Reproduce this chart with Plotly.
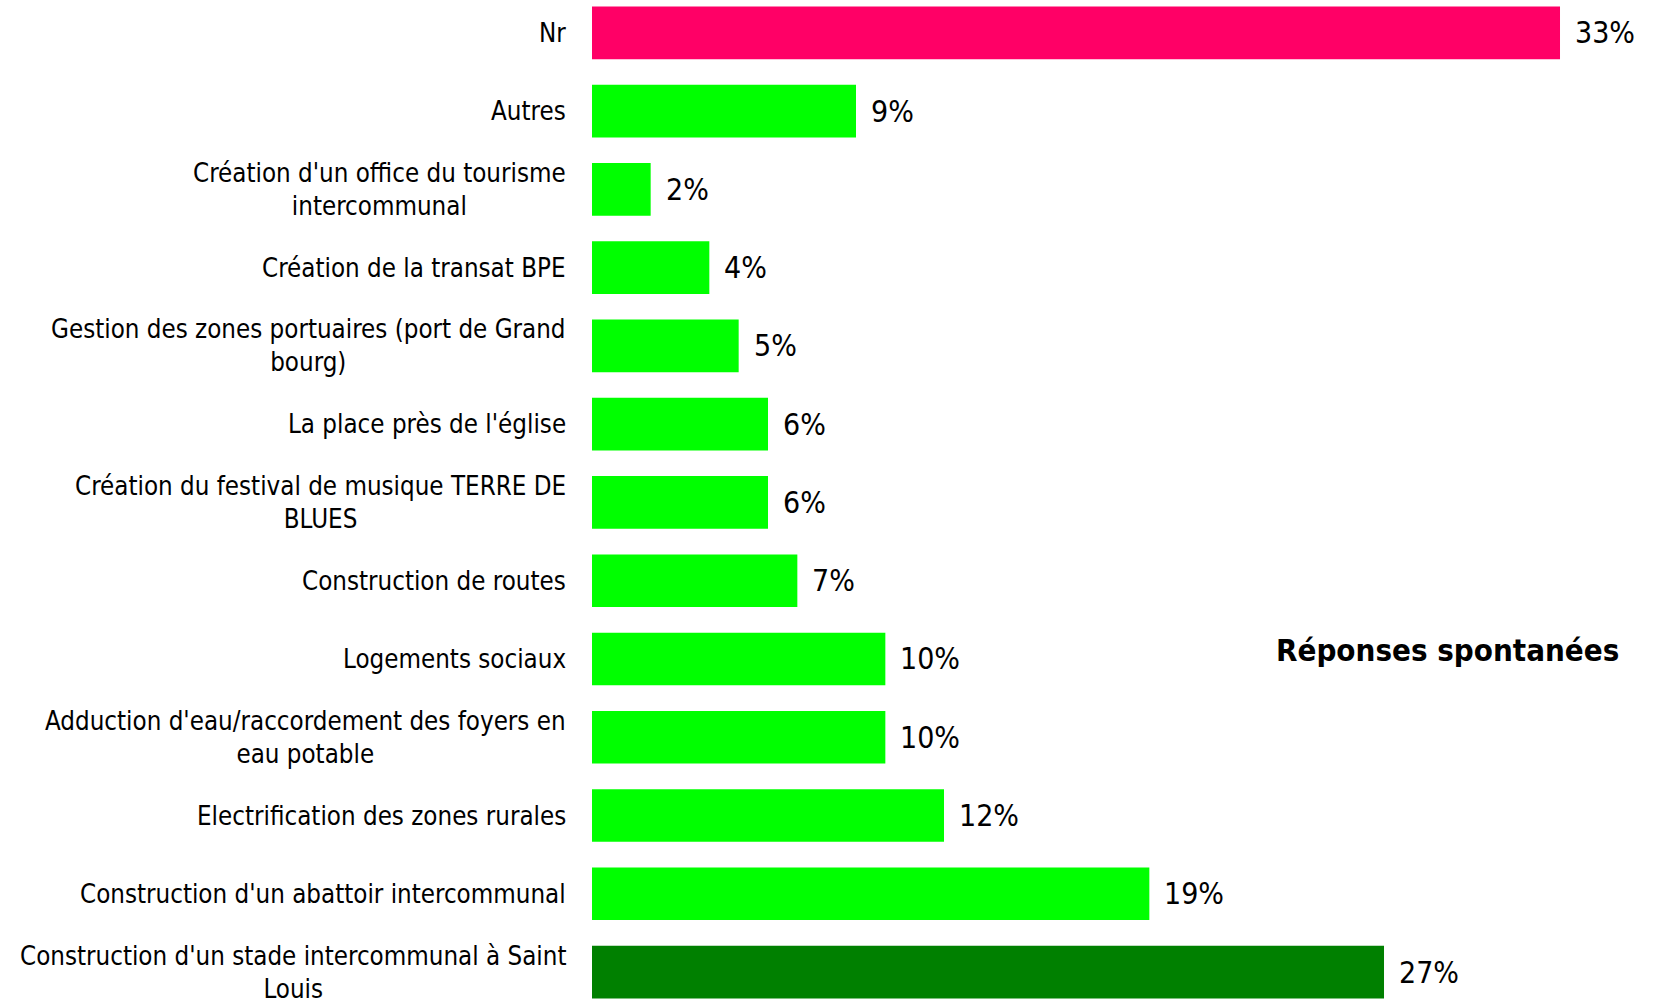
import plotly.graph_objects as go

categories = [
    "Nr",
    "Autres",
    "Création d'un office du tourisme<br>intercommunal",
    "Création de la transat BPE",
    "Gestion des zones portuaires (port de Grand<br>bourg)",
    "La place près de l'église",
    "Création du festival de musique TERRE DE<br>BLUES",
    "Construction de routes",
    "Logements sociaux",
    "Adduction d'eau/raccordement des foyers en<br>eau potable",
    "Electrification des zones rurales",
    "Construction d'un abattoir intercommunal",
    "Construction d'un stade intercommunal à Saint<br>Louis",
]
values = [33, 9, 2, 4, 5, 6, 6, 7, 10, 10, 12, 19, 27]
value_labels = ["33%", "9%", "2%", "4%", "5%", "6%", "6%", "7%", "10%", "10%", "12%", "19%", "27%"]
colors = ["#FF0066"] + ["#00FF00"] * 11 + ["#008000"]
title_text = "Réponses spontanées"

FONT = "DejaVu Sans Condensed, DejaVu Sans, sans-serif"

n = len(categories)
ypos = list(range(n - 1, -1, -1))  # top to bottom

fig = go.Figure()
fig.add_trace(go.Bar(
    x=values, y=ypos, orientation="h",
    marker=dict(color=colors, line=dict(width=0)),
    width=0.673,
    hoverinfo="skip",
))

annotations = []
for cat, v, lab, y in zip(categories, values, value_labels, ypos):
    annotations.append(dict(
        x=0, y=y, xref="x", yref="y", text=cat, showarrow=False,
        xanchor="right", yanchor="middle", align="center", xshift=-24,
        font=dict(family=FONT, size=25.7, color="#000000"),
    ))
    annotations.append(dict(
        x=v, y=y, xref="x", yref="y", text=lab, showarrow=False,
        xanchor="left", yanchor="middle", xshift=13,
        font=dict(family=FONT, size=30, color="#000000"),
    ))
annotations.append(dict(
    x=0.970, y=0.3506, xref="paper", yref="paper", text="<b>" + title_text + "</b>",
    showarrow=False, xanchor="right", yanchor="middle",
    font=dict(family=FONT, size=31, color="#000000"),
))

fig.update_layout(
    width=1653, height=1001,
    margin=dict(l=592, r=0, t=0, b=0),
    paper_bgcolor="white", plot_bgcolor="white",
    showlegend=False,
    annotations=annotations,
    xaxis=dict(range=[0, 36.17], visible=False, fixedrange=True),
    yaxis=dict(range=[-0.37, 12.42], visible=False, fixedrange=True),
)

fig.write_html(
    "out.html",
    config={"displayModeBar": False},
    post_script="document.body.style.margin='0';document.body.style.overflow='hidden';",
)
